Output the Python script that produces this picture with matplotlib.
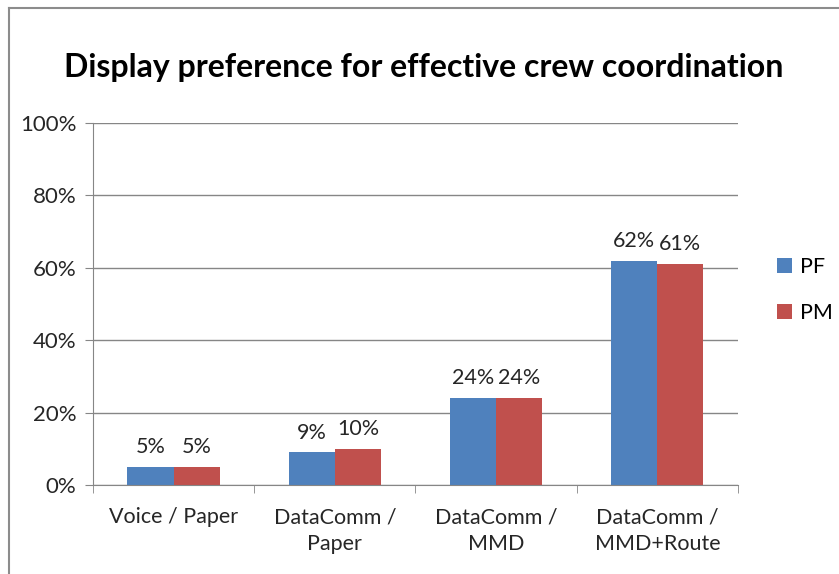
import matplotlib.pyplot as plt
import numpy as np
from matplotlib.lines import Line2D
from matplotlib.ticker import PercentFormatter

categories = ['Voice / Paper', 'DataComm /\nPaper', 'DataComm /\nMMD', 'DataComm /\nMMD+Route']
pf_values = [5, 9, 24, 62]
pm_values = [5, 10, 24, 61]
series_names = ['PF', 'PM']

plt.rcParams['font.family'] = ['Lato', 'DejaVu Sans']

fig = plt.figure(figsize=(8.39, 5.74), dpi=100)
ax = fig.add_axes([0.1108, 0.155, 0.7688, 0.6307])

x = np.arange(len(categories))
w = 0.286
b1 = ax.bar(x - w / 2, pf_values, w, color='#4F81BD', label=series_names[0])
b2 = ax.bar(x + w / 2, pm_values, w, color='#C0504D', label=series_names[1])

for bars in (b1, b2):
    ax.bar_label(bars, labels=[f'{v:.0f}%' for v in bars.datavalues],
                 padding=7, fontsize=15.5, color='#262626')

ax.set_xlim(-0.5, len(categories) - 0.5)
ax.set_ylim(0, 100)
ax.set_yticks(np.arange(0, 101, 20))
ax.yaxis.set_major_formatter(PercentFormatter(decimals=0))
ax.grid(axis='y', color='#868686', linewidth=1)
ax.set_axisbelow(True)

ax.set_xticks(x)
ax.set_xticklabels(categories, fontsize=15.5, color='#262626', linespacing=1.45)
ax.set_xticks(np.arange(-0.5, len(categories)), minor=True)
ax.tick_params(axis='x', which='major', length=0, pad=16)
ax.tick_params(axis='x', which='minor', length=6, color='#868686', direction='out')
ax.tick_params(axis='y', labelsize=16, labelcolor='#262626', length=6,
               color='#868686', direction='out', pad=6)

for s in ('top', 'right'):
    ax.spines[s].set_visible(False)
for s in ('left', 'bottom'):
    ax.spines[s].set_color('#868686')

ax.legend(loc='center left', bbox_to_anchor=(1.03, 0.539), frameon=False,
          fontsize=15.5, handlelength=0.7, handleheight=0.7, handletextpad=0.4,
          labelspacing=1.2)

fig.text(0.505, 0.883, 'Display preference for effective crew coordination',
         ha='center', va='center', fontsize=23, fontweight='bold', color='black')

# outer chart frame, cut off at right and bottom
fig.add_artist(Line2D([0.011, 1.0], [0.986, 0.986], color='#8c8c8c', linewidth=1.5))
fig.add_artist(Line2D([0.011, 0.011], [0.0, 0.986], color='#8c8c8c', linewidth=1.5))

fig.savefig('out.png', dpi=100)
